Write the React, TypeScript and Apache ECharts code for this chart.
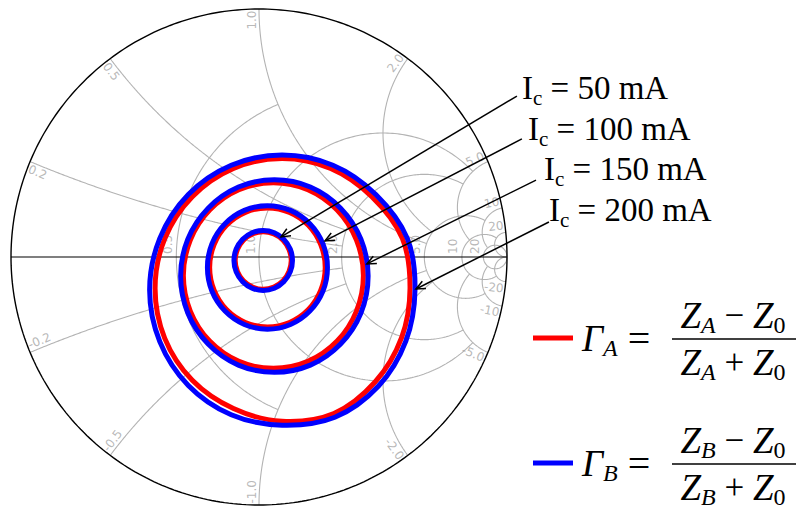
import React, { useEffect, useRef } from "react";
import * as echarts from "echarts";

type P = [number, number];

// Smith chart grid ticks (resistance circles / reactance arcs) and how far each is drawn
const R_TICKS = [0.5, 1, 2, 5, 10, 20];
const R_TICK_LIMIT = [1, 5, 5, 10, 20, Infinity]; // max |x| for each resistance circle
const X_TICKS = [0.2, 0.5, 1, 2, 5, 10, 20];
const X_TICK_LIMIT = [2, 2, 5, 5, 10, 20, Infinity]; // max r for each reactance arc

const CURRENT_LABELS = ["50 mA", "100 mA", "150 mA", "200 mA"];

// Reflection coefficient loci (Re Γ, Im Γ)
const GAMMA_A_50: P[] = [[0.130,-0.014],[0.121,0.030],[0.097,0.068],[0.060,0.093],[0.017,0.102],[-0.026,0.093],[-0.063,0.068],[-0.087,0.030],[-0.096,-0.014],[-0.087,-0.058],[-0.063,-0.096],[-0.026,-0.121],[0.017,-0.130],[0.060,-0.121],[0.097,-0.096],[0.121,-0.058]];
const GAMMA_B_50: P[] = [[0.135,-0.014],[0.126,0.032],[0.100,0.072],[0.062,0.098],[0.017,0.107],[-0.028,0.098],[-0.066,0.072],[-0.092,0.032],[-0.101,-0.014],[-0.092,-0.060],[-0.066,-0.100],[-0.028,-0.126],[0.017,-0.135],[0.062,-0.126],[0.100,-0.100],[0.126,-0.060]];
const GAMMA_A_100: P[] = [[0.267,-0.042],[0.249,0.050],[0.199,0.128],[0.123,0.180],[0.034,0.198],[-0.055,0.180],[-0.131,0.128],[-0.181,0.050],[-0.199,-0.042],[-0.181,-0.134],[-0.131,-0.212],[-0.055,-0.264],[0.034,-0.282],[0.123,-0.264],[0.199,-0.212],[0.249,-0.134]];
const GAMMA_B_100: P[] = [[0.276,-0.042],[0.258,0.053],[0.205,0.134],[0.127,0.188],[0.034,0.207],[-0.059,0.188],[-0.137,0.134],[-0.190,0.053],[-0.208,-0.042],[-0.190,-0.137],[-0.137,-0.218],[-0.059,-0.272],[0.034,-0.291],[0.127,-0.272],[0.205,-0.218],[0.258,-0.137]];
const GAMMA_A_150: P[] = [[0.421,-0.075],[0.393,0.068],[0.315,0.189],[0.197,0.271],[0.058,0.299],[-0.081,0.271],[-0.199,0.189],[-0.277,0.068],[-0.305,-0.075],[-0.277,-0.218],[-0.199,-0.339],[-0.081,-0.421],[0.058,-0.449],[0.197,-0.421],[0.315,-0.339],[0.393,-0.218]];
const GAMMA_B_150: P[] = [[0.440,-0.077],[0.411,0.072],[0.329,0.197],[0.207,0.282],[0.062,0.311],[-0.083,0.282],[-0.205,0.197],[-0.287,0.072],[-0.316,-0.077],[-0.287,-0.226],[-0.205,-0.351],[-0.083,-0.436],[0.062,-0.465],[0.207,-0.436],[0.329,-0.351],[0.411,-0.226]];
const GAMMA_A_200: P[] = [[0.609,-0.127],[0.578,0.075],[0.455,0.243],[0.289,0.357],[0.093,0.397],[-0.103,0.357],[-0.269,0.243],[-0.380,0.074],[-0.419,-0.127],[-0.380,-0.328],[-0.269,-0.497],[-0.103,-0.611],[0.093,-0.662],[0.302,-0.631],[0.469,-0.503],[0.575,-0.325]];
const GAMMA_B_200: P[] = [[0.629,-0.133],[0.598,0.075],[0.471,0.252],[0.298,0.370],[0.093,0.411],[-0.112,0.370],[-0.285,0.252],[-0.400,0.075],[-0.441,-0.133],[-0.400,-0.341],[-0.285,-0.518],[-0.112,-0.636],[0.093,-0.678],[0.306,-0.646],[0.482,-0.520],[0.592,-0.339]];

const GAMMA_A = [GAMMA_A_50, GAMMA_A_100, GAMMA_A_150, GAMMA_A_200];
const GAMMA_B = [GAMMA_B_50, GAMMA_B_100, GAMMA_B_150, GAMMA_B_200];

// annotation arrows (Γ-plane coordinates)
const ARROW_TIPS: P[] = [[0.089, 0.081], [0.266, 0.065], [0.435, -0.028], [0.633, -0.129]];
const ARROW_TAILS: P[] = [[1.040, 0.649], [1.060, 0.476], [1.117, 0.310], [1.169, 0.141]];

// layout (pixels)
const LABEL_POS: P[] = [[522, 88], [528, 129], [544, 169], [549, 210]];
const GRID = { left: 11, top: 9, width: 496, height: 496 };
const GREY = "#b3b3b3";
const LABEL_GREY = "#a6a6a6";

function gammaOf(r: number, x: number): P {
  const den = (r + 1) * (r + 1) + x * x;
  return [(r * r + x * x - 1) / den, (2 * x) / den];
}

function rArc(r: number, xmax: number): P[] {
  const cx = r / (1 + r);
  const rad = 1 / (1 + r);
  let a0 = 0;
  if (isFinite(xmax)) {
    const p = gammaOf(r, xmax);
    a0 = Math.atan2(p[1], p[0] - cx);
  }
  const a1 = 2 * Math.PI - a0;
  const pts: P[] = [];
  const n = 240;
  for (let i = 0; i <= n; i++) {
    const a = a0 + ((a1 - a0) * i) / n;
    pts.push([cx + rad * Math.cos(a), rad * Math.sin(a)]);
  }
  return pts;
}

function xArc(x: number, rmax: number, sign: number): P[] {
  const c = 1 / x;
  const rad = 1 / x;
  const p0 = gammaOf(0, x);
  let b0 = Math.atan2(p0[1] - c, p0[0] - 1);
  if (b0 < 0) b0 += 2 * Math.PI;
  let b1 = 1.5 * Math.PI;
  if (isFinite(rmax)) {
    const p1 = gammaOf(rmax, x);
    b1 = Math.atan2(p1[1] - c, p1[0] - 1);
    if (b1 < 0) b1 += 2 * Math.PI;
  }
  const pts: P[] = [];
  const n = 200;
  for (let i = 0; i <= n; i++) {
    const b = b0 + ((b1 - b0) * i) / n;
    pts.push([1 + rad * Math.cos(b), sign * (c + rad * Math.sin(b))]);
  }
  return pts;
}

function fmtTick(v: number): string {
  const a = Math.abs(v);
  const s = a < 10 ? a.toFixed(1) : String(a);
  return (v < 0 ? "-" : "") + s;
}

// closed smooth path (Catmull-Rom rendered as cubic Béziers) through pixel points
function closedSmoothPath(pts: number[][]): string {
  const n = pts.length;
  let d = `M${pts[0][0].toFixed(2)},${pts[0][1].toFixed(2)}`;
  for (let i = 0; i < n; i++) {
    const p0 = pts[(i - 1 + n) % n];
    const p1 = pts[i];
    const p2 = pts[(i + 1) % n];
    const p3 = pts[(i + 2) % n];
    const c1x = p1[0] + (p2[0] - p0[0]) / 6;
    const c1y = p1[1] + (p2[1] - p0[1]) / 6;
    const c2x = p2[0] - (p3[0] - p1[0]) / 6;
    const c2y = p2[1] - (p3[1] - p1[1]) / 6;
    d += `C${c1x.toFixed(2)},${c1y.toFixed(2)} ${c2x.toFixed(2)},${c2y.toFixed(2)} ${p2[0].toFixed(2)},${p2[1].toFixed(2)}`;
  }
  return d + "Z";
}

export default function App() {
  const ref = useRef<HTMLDivElement>(null);
  useEffect(() => {
    const chart = echarts.init(ref.current!, null, { renderer: "svg" });
    const px = 1 / (GRID.width / 2); // one pixel in Γ units

    const series: any[] = [];
    const gridLine = (data: P[]) => ({
      type: "line",
      data,
      showSymbol: false,
      silent: true,
      smooth: false,
      clip: false,
      z: 1,
      lineStyle: { color: GREY, width: 1.1 },
    });

    R_TICKS.forEach((r, i) => series.push(gridLine(rArc(r, R_TICK_LIMIT[i]))));
    X_TICKS.forEach((x, i) => {
      series.push(gridLine(xArc(x, X_TICK_LIMIT[i], 1)));
      series.push(gridLine(xArc(x, X_TICK_LIMIT[i], -1)));
    });

    // outer circle and real axis
    const outer: P[] = [];
    for (let i = 0; i <= 360; i++) {
      const a = (i * Math.PI) / 180;
      outer.push([Math.cos(a), Math.sin(a)]);
    }
    series.push({
      type: "line", data: outer, showSymbol: false, silent: true, clip: false, z: 2,
      lineStyle: { color: "#000", width: 1.4 },
    });
    series.push({
      type: "line", data: [[-1, 0], [1, 0]], showSymbol: false, silent: true, clip: false, z: 2,
      lineStyle: { color: "#000", width: 1.1 },
    });

    // tick labels
    const labelData: any[] = [];
    R_TICKS.forEach((r) => {
      labelData.push({
        value: [(r - 1) / (r + 1) - 2.5 * px, 3 * px],
        label: { formatter: fmtTick(r), rotate: 90, align: "left", verticalAlign: "bottom" },
      });
    });
    X_TICKS.forEach((x) => {
      [1, -1].forEach((s) => {
        const e = gammaOf(0, s * x);
        const phi = (Math.atan2(e[1], e[0]) * 180) / Math.PI;
        let rot = phi;
        if (rot > 90.001) rot -= 180;
        if (rot < -89.999) rot += 180;
        const rr = (rot * Math.PI) / 180;
        const outward = Math.cos(rr) * e[0] + Math.sin(rr) * e[1] > 0;
        // tangent toward Γ = -1
        const t: P = s > 0 ? [-e[1], e[0]] : [e[1], -e[0]];
        const pos: P = [
          e[0] * (1 - 1.5 * px) + t[0] * 7 * px,
          e[1] * (1 - 1.5 * px) + t[1] * 7 * px,
        ];
        labelData.push({
          value: pos,
          label: {
            formatter: fmtTick(s * x),
            rotate: rot,
            align: outward ? "right" : "left",
            verticalAlign: "middle",
          },
        });
      });
    });
    series.push({
      type: "scatter",
      data: labelData,
      symbolSize: 0,
      silent: true,
      z: 3,
      label: {
        show: true,
        position: "inside",
        color: LABEL_GREY,
        fontSize: 12,
        fontFamily: "DejaVu Sans",
      },
    });

    // loci, drawn as smooth closed curves through the read points
    const locus = (pts: P[], color: string, z: number, name: string) => ({
      type: "custom",
      name,
      data: [[0, 0]],
      silent: true,
      clip: false,
      z,
      renderItem: (_params: any, api: any) => {
        const pix = pts.map((p) => api.coord(p));
        return {
          type: "path",
          shape: { pathData: closedSmoothPath(pix) },
          style: { stroke: color, lineWidth: 5, fill: "none" },
        };
      },
    });
    for (let i = 0; i < 4; i++) series.push(locus(GAMMA_A[i], "#ff0000", 4, "ΓA " + CURRENT_LABELS[i]));
    for (let i = 0; i < 4; i++) series.push(locus(GAMMA_B[i], "#0000ff", 5, "ΓB " + CURRENT_LABELS[i]));

    chart.setOption({
      animation: false,
      grid: GRID,
      xAxis: { type: "value", min: -1, max: 1, show: false },
      yAxis: { type: "value", min: -1, max: 1, show: false },
      series,
    });

    const toPx = (p: P) => chart.convertToPixel({ gridIndex: 0 }, p) as unknown as number[];
    const graphics: any[] = [];
    const icRich = {
      n: { fontFamily: "Liberation Serif", fontSize: 33, lineHeight: 40, fill: "#000", verticalAlign: "middle" },
      s: { fontFamily: "Liberation Serif", fontSize: 21, lineHeight: 21, fill: "#000", verticalAlign: "bottom" },
    };
    ARROW_TIPS.forEach((tip, i) => {
      const a = toPx(tip);
      const b = toPx(ARROW_TAILS[i]);
      graphics.push({
        type: "line", z: 20,
        shape: { x1: b[0], y1: b[1], x2: a[0], y2: a[1] },
        style: { stroke: "#000", lineWidth: 1.5 },
      });
      const ang = Math.atan2(b[1] - a[1], b[0] - a[0]);
      const L = 10;
      const w = 0.42;
      graphics.push({
        type: "polyline", z: 20,
        shape: {
          points: [
            [a[0] + L * Math.cos(ang + w), a[1] + L * Math.sin(ang + w)],
            [a[0], a[1]],
            [a[0] + L * Math.cos(ang - w), a[1] + L * Math.sin(ang - w)],
          ],
        },
        style: { stroke: "#000", fill: "none", lineWidth: 1.5 },
      });
      graphics.push({
        type: "text", z: 20,
        x: LABEL_POS[i][0], y: LABEL_POS[i][1],
        style: {
          text: `{n|I}{s|c}{n| = ${CURRENT_LABELS[i]}}`,
          rich: icRich,
          align: "left",
          verticalAlign: "middle",
        },
      });
    });

    // legend with formulas
    const mathRich = {
      i: { fontFamily: "Liberation Serif", fontStyle: "italic", fontSize: 37, lineHeight: 44, fill: "#000", verticalAlign: "middle" },
      n: { fontFamily: "Liberation Serif", fontSize: 35, lineHeight: 44, fill: "#000", verticalAlign: "middle" },
      e: { fontFamily: "Liberation Serif", fontSize: 40, lineHeight: 44, fill: "#000", verticalAlign: "middle" },
      s: { fontFamily: "Liberation Serif", fontStyle: "italic", fontSize: 24, lineHeight: 22, fill: "#000", verticalAlign: "bottom" },
      z: { fontFamily: "Liberation Serif", fontSize: 24, lineHeight: 22, fill: "#000", verticalAlign: "bottom" },
    };
    const legendRows = [
      { y: 338, color: "#ff0000", sub: "A" },
      { y: 463, color: "#0000ff", sub: "B" },
    ];
    legendRows.forEach((row) => {
      graphics.push({
        type: "line", z: 20,
        shape: { x1: 533, y1: row.y, x2: 573, y2: row.y },
        style: { stroke: row.color, lineWidth: 5 },
      });
      graphics.push({
        type: "text", z: 20, x: 582, y: row.y,
        style: { text: `{i|Γ}{s|${row.sub}}{e| = }`, rich: mathRich, align: "left", verticalAlign: "middle" },
      });
      graphics.push({
        type: "text", z: 20, x: 733, y: row.y - 23,
        style: { text: `{i|Z}{s|${row.sub}}{n| − }{i|Z}{z|0}`, rich: mathRich, align: "center", verticalAlign: "middle" },
      });
      graphics.push({
        type: "line", z: 20,
        shape: { x1: 672, y1: row.y + 1, x2: 796, y2: row.y + 1 },
        style: { stroke: "#000", lineWidth: 1.6 },
      });
      graphics.push({
        type: "text", z: 20, x: 733, y: row.y + 24,
        style: { text: `{i|Z}{s|${row.sub}}{n| + }{i|Z}{z|0}`, rich: mathRich, align: "center", verticalAlign: "middle" },
      });
    });

    chart.setOption({ graphic: graphics });
    return () => chart.dispose();
  }, []);

  return (
    <div
      ref={ref}
      style={{ position: "fixed", left: 0, top: 0, width: 804, height: 509, background: "#fff" }}
    />
  );
}
